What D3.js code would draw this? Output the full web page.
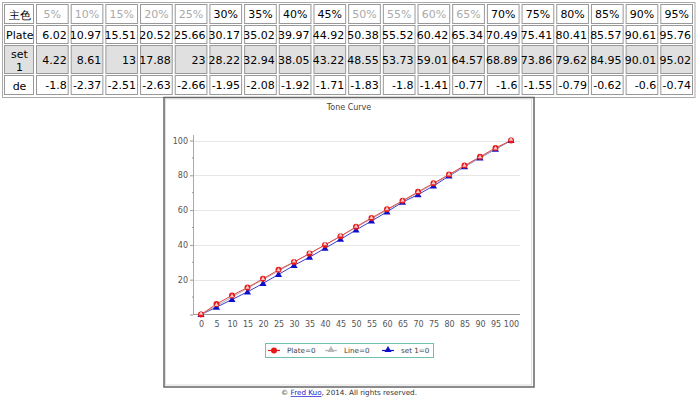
<!DOCTYPE html>
<html>
<head>
<meta charset="utf-8">
<script src="https://cdn.jsdelivr.net/npm/d3@7"></script>
<style>
  body { margin: 0; background: #fff; }
  svg { display: block; font-family: "DejaVu Sans", Verdana, sans-serif; }
</style>
</head>
<body>
<svg id="chart" width="697" height="398"></svg>
<script>
// Dữ liệu bảng
const steps = ["5%", "10%", "15%", "20%", "25%", "30%", "35%", "40%", "45%", "50%",
               "55%", "60%", "65%", "70%", "75%", "80%", "85%", "90%", "95%"];
const grayHeaders = ["5%", "10%", "15%", "20%", "25%", "50%", "55%", "60%", "65%"];
const plate = [6.02, 10.97, 15.51, 20.52, 25.66, 30.17, 35.02, 39.97, 44.92, 50.38,
               55.52, 60.42, 65.34, 70.49, 75.41, 80.41, 85.57, 90.61, 95.76];
const set1 = [4.22, 8.61, 13, 17.88, 23, 28.22, 32.94, 38.05, 43.22, 48.55,
              53.73, 59.01, 64.57, 68.89, 73.86, 79.62, 84.95, 90.01, 95.02];
const de = [-1.8, -2.37, -2.51, -2.63, -2.66, -1.95, -2.08, -1.92, -1.71, -1.83,
            -1.8, -1.41, -0.77, -1.6, -1.55, -0.79, -0.62, -0.6, -0.74];

// Dữ liệu biểu đồ (Tone Curve)
const xValues = [0, 5, 10, 15, 20, 25, 30, 35, 40, 45, 50, 55, 60, 65, 70, 75, 80, 85, 90, 95, 100];
const plateCurve = [0, 6.02, 10.97, 15.51, 20.52, 25.66, 30.17, 35.02, 39.97, 44.92, 50.38,
                    55.52, 60.42, 65.34, 70.49, 75.41, 80.41, 85.57, 90.61, 95.76, 100];
const lineCurve = [0, 5, 10, 15, 20, 25, 30, 35, 40, 45, 50, 55, 60, 65, 70, 75, 80, 85, 90, 95, 100];
const set1Curve = [0, 4.22, 8.61, 13, 17.88, 23, 28.22, 32.94, 38.05, 43.22, 48.55,
                   53.73, 59.01, 64.57, 68.89, 73.86, 79.62, 84.95, 90.01, 95.02, 100];
const yTicks = [20, 40, 60, 80, 100];
const legendLabels = ["Plate=0", "Line=0", "set 1=0"];

const svg = d3.select("#chart");

// ---------- Bảng ----------
const table = svg.append("g").attr("font-size", 11);
const colScale = d3.scaleBand().domain(steps).range([35, 694]);
const rowTops = [4, 25, 45, 75, 96];

table.append("rect")
    .attr("x", 2.5).attr("y", 2.5).attr("width", 692.5).attr("height", 95)
    .attr("fill", "none").attr("stroke", "#aaa");

const rows = [
    { label: ["主色"], values: steps, header: true },
    { label: ["Plate"], values: plate, align: "start" },
    { label: ["set", "1"], values: set1, fill: "#e0e0e0" },
    { label: ["de"], values: de }
];

rows.forEach((row, r) => {
    const y0 = rowTops[r], y1 = rowTops[r + 1];
    const mid = (y0 + y1) / 2;
    const fill = row.fill || "#fff";

    // ô nhãn
    table.append("rect")
        .attr("x", 4.5).attr("y", y0 + 0.5).attr("width", 29).attr("height", y1 - y0 - 2)
        .attr("fill", fill).attr("stroke", "#999");
    const lx = row.align === "start" ? 6 : 19.5;
    row.label.forEach((t, i) => {
        table.append("text")
            .attr("x", lx)
            .attr("y", mid + 4 + (i - (row.label.length - 1) / 2) * 13)
            .attr("text-anchor", row.align === "start" ? "start" : "middle")
            .attr("fill", "#000")
            .text(t);
    });

    // ô giá trị
    row.values.forEach((v, i) => {
        const x0 = colScale(steps[i]);
        table.append("rect")
            .attr("x", x0 + 1.5).attr("y", y0 + 0.5)
            .attr("width", colScale.bandwidth() - 3).attr("height", y1 - y0 - 2)
            .attr("fill", fill).attr("stroke", "#999");
        table.append("text")
            .attr("x", row.header ? x0 + colScale.bandwidth() / 2 : x0 + colScale.bandwidth() - 3)
            .attr("y", mid + 3.5)
            .attr("text-anchor", row.header ? "middle" : "end")
            .attr("fill", row.header && grayHeaders.includes(v) ? "#aaa" : "#000")
            .text(v);
    });
});

// ---------- Khung biểu đồ ----------
svg.append("rect")
    .attr("x", 164).attr("y", 97.5).attr("width", 370).attr("height", 289.5)
    .attr("fill", "#fff").attr("stroke", "#666").attr("stroke-width", 1.5);
svg.append("rect")
    .attr("x", 165.5).attr("y", 99).attr("width", 366).attr("height", 286)
    .attr("fill", "none").attr("stroke", "#ddd");

const xScale = d3.scaleLinear().domain([0, 100]).range([201, 511]);
const yScale = d3.scaleLinear().domain([0, 100]).range([314.5, 140.5]);
const axisLeftX = 193, axisRightX = 520;

// tiêu đề
svg.append("text")
    .attr("x", 349).attr("y", 110)
    .attr("text-anchor", "middle")
    .attr("font-size", 8).attr("fill", "#444")
    .text("Tone Curve");

// lưới
svg.append("g").selectAll("line")
    .data(yTicks)
    .join("line")
    .attr("x1", axisLeftX).attr("x2", axisRightX)
    .attr("y1", d => Math.round(yScale(d)) + 0.5).attr("y2", d => Math.round(yScale(d)) + 0.5)
    .attr("stroke", "#e6e6e6");

// trục Y
const yAxis = svg.append("g")
    .attr("transform", `translate(${axisLeftX},0)`)
    .call(d3.axisLeft(yScale).tickValues(yTicks.concat([0])).tickSize(3).tickPadding(2).tickFormat(d => d === 0 ? "" : d));
yAxis.select(".domain").remove();
yAxis.selectAll(".tick line").attr("stroke", "#999");
yAxis.selectAll("text").attr("font-size", 8).attr("fill", "#555").attr("font-family", "DejaVu Sans");
svg.append("line")
    .attr("x1", axisLeftX + 0.5).attr("x2", axisLeftX + 0.5)
    .attr("y1", 135).attr("y2", 315)
    .attr("stroke", "#aaa");
// vạch phụ
svg.append("g").selectAll("line")
    .data([10, 30, 50, 70, 90])
    .join("line")
    .attr("x1", axisLeftX - 1).attr("x2", axisLeftX + 1)
    .attr("y1", d => yScale(d)).attr("y2", d => yScale(d))
    .attr("stroke", "#999");

// trục X
const xAxis = svg.append("g")
    .attr("transform", "translate(0,314.5)")
    .call(d3.axisBottom(xScale).tickValues(xValues).tickSize(0).tickPadding(7));
xAxis.select(".domain").remove();
xAxis.selectAll("text").attr("font-size", 8).attr("fill", "#555").attr("font-family", "DejaVu Sans");
svg.append("line")
    .attr("x1", axisLeftX).attr("x2", axisRightX)
    .attr("y1", 314.5).attr("y2", 314.5)
    .attr("stroke", "#999");

// ---------- Các đường ----------
const lineGen = values => d3.line()
    .x((d, i) => xScale(xValues[i]))
    .y(d => yScale(d))(values);

const tri = d3.symbol().type(d3.symbolTriangle).size(22);
const triSmall = d3.symbol().type(d3.symbolTriangle).size(8);

// set 1 (xanh)
svg.append("path").attr("d", lineGen(set1Curve))
    .attr("fill", "none").attr("stroke", "#3b3bd9").attr("stroke-width", 1);
// Line (xám)
svg.append("path").attr("d", lineGen(lineCurve))
    .attr("fill", "none").attr("stroke", "#b0b0b0").attr("stroke-width", 1);
// Plate (đỏ)
svg.append("path").attr("d", lineGen(plateCurve))
    .attr("fill", "none").attr("stroke", "#e04848").attr("stroke-width", 1);

svg.append("g").selectAll("path")
    .data(set1Curve)
    .join("path")
    .attr("transform", (d, i) => `translate(${xScale(xValues[i])},${yScale(d) + 0.5})`)
    .attr("d", tri)
    .attr("fill", "#1010c8");

svg.append("g").selectAll("circle")
    .data(plateCurve)
    .join("circle")
    .attr("cx", (d, i) => xScale(xValues[i]))
    .attr("cy", d => yScale(d))
    .attr("r", 3)
    .attr("fill", "#e81818");

svg.append("g").selectAll("path")
    .data(lineCurve)
    .join("path")
    .attr("transform", (d, i) => `translate(${xScale(xValues[i])},${yScale(d) - 1})`)
    .attr("d", triSmall)
    .attr("fill", "#f0c8c8");

// ---------- Chú thích ----------
const legend = svg.append("g");
legend.append("rect")
    .attr("x", 265.5).attr("y", 343.5).attr("width", 168).attr("height", 14)
    .attr("fill", "#fff").attr("stroke", "#70c0ae");

const legendX = [274, 331, 388];
const legendColors = ["#e81818", "#b8b8b8", "#1010c8"];
legendLabels.forEach((t, i) => {
    const cx = legendX[i];
    legend.append("line")
        .attr("x1", cx - 6).attr("x2", cx + 6).attr("y1", 350.5).attr("y2", 350.5)
        .attr("stroke", legendColors[i]).attr("stroke-width", 1.2);
    if (i === 0) {
        legend.append("circle").attr("cx", cx).attr("cy", 350.5).attr("r", 3).attr("fill", legendColors[i]);
    } else {
        legend.append("path").attr("transform", `translate(${cx},${350})`)
            .attr("d", tri).attr("fill", legendColors[i]);
    }
    legend.append("text")
        .attr("x", cx + 13).attr("y", 353)
        .attr("font-size", 7.2).attr("fill", "#444")
        .text(t);
});

// ---------- Chân trang ----------
const footer = svg.append("text")
    .attr("x", 349).attr("y", 395)
    .attr("text-anchor", "middle")
    .attr("font-size", 7.2).attr("fill", "#333");
footer.append("tspan").text("© ");
footer.append("tspan").attr("fill", "#1a1acc").attr("text-decoration", "underline").text("Fred Kuo");
footer.append("tspan").text(", 2014. All rights reserved.");
</script>
</body>
</html>
